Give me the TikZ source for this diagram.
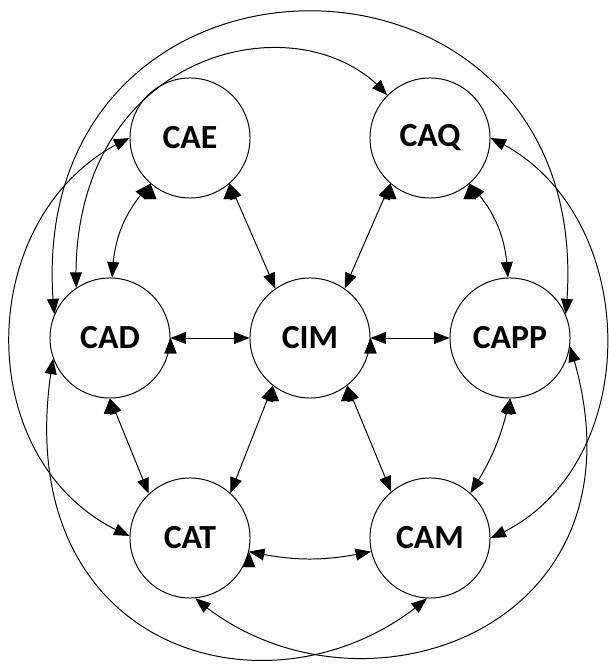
\documentclass[tikz,border=0pt]{standalone}
\usepackage{fontspec}
\setmainfont{Carlito}
\usetikzlibrary{arrows.meta, bending}
\tikzset{cnode/.style={circle, draw, line width=0.7pt, minimum size=3cm, inner sep=0pt, font=\fontsize{24}{28}\selectfont\bfseries}}

\begin{document}
\begin{tikzpicture}[x=0.025cm, y=0.025cm, >={Triangle[length=11pt,width=8.5pt]}, line width=0.7pt]
\useasboundingbox (0,0) rectangle (609,664);
\node[cnode] (cae) at (190,526) {CAE};
\node[cnode] (caq) at (430,526) {CAQ};
\node[cnode] (cad) at (110,326) {CAD};
\node[cnode] (cim) at (310,326) {CIM};
\node[cnode] (capp) at (510,326) {CAPP};
\node[cnode] (cat) at (190,126) {CAT};
\node[cnode] (cam) at (430,126) {CAM};
% inner ring
\draw [<->] (cae.229) edge [bend right=20] (cad.88);
\draw [<->] (cae.-49) edge (cim.125);
\draw [<->] (caq.229) edge (cim.55);
\draw [<->] (caq.-49) edge [bend left=20] (capp.92);
\draw [<->] (cad.east) edge (cim.west);
\draw [<->] (cim.east) edge (capp.west);
\draw [<->] (cad.-90) edge (cat.133);
\draw [<->] (cim.232) edge (cat.48);
\draw [<->] (cim.-52) edge (cam.130);
\draw [<->] (capp.-90) edge [bend left=10] (cam.48);
\draw [<->] (cat.-13) edge [bend right=12] (cam.193);
% outer curves
\draw [<->] (cad.157) .. controls +(96:407) and +(84:407) .. (capp.23);
\draw [<->] (cad.124) .. controls +(92:240) and +(130:130) .. (caq.135);
\draw [<->] (cae.180) .. controls +(204:175) and +(158:175) .. (cat.178);
\draw [<->] (caq.0) .. controls +(-24:170) and +(22:170) .. (cam.0);
\draw [<->] (cad.200) .. controls +(-100:300) and +(221:200) .. (cam.-93);
\draw [<->] (capp.-8) .. controls +(-72:300) and +(-41:210) .. (cat.-85);
\end{tikzpicture}
\end{document}
